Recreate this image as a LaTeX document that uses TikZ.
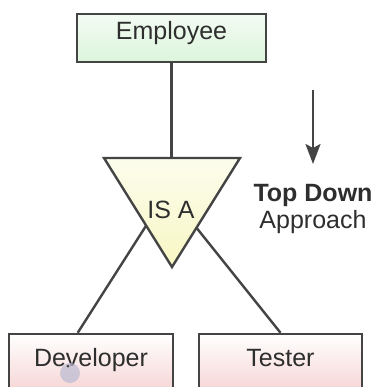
\documentclass[tikz,border=0pt]{standalone}
\usepackage{fontspec}
\setmainfont{Liberation Sans}
\usetikzlibrary{calc}
\usetikzlibrary{arrows.meta}
\definecolor{mline}{HTML}{444444}
\definecolor{mtext}{HTML}{2E2E2E}
\definecolor{mgreen}{HTML}{DCF4DC}
\definecolor{mpink}{HTML}{F6D3D3}
\definecolor{myellow}{HTML}{F7F7C4}
\tikzset{entity/.style = {draw = mline, line width = 2.4pt, text = mtext, text height = 18pt, text depth = 14pt, inner sep = 0, font = \fontsize{25}{30}\selectfont}}
\tikzset{plain/.style = {text = mtext, inner sep = 0, font = \fontsize{25}{30}\selectfont}}

\begin{document}
\begin{tikzpicture}[x = 1pt, y = -1pt]
      \clip (0, 0) rectangle (378, 387);
      \fill [white] (0, 0) rectangle (378, 387);
      % boxes
      \node (emp) [entity, top color = mgreen!35, bottom color = mgreen, minimum width = 189pt, minimum height = 48pt] at (171.5, 38) {Employee};
      \node (dev) [entity, top color = white, bottom color = mpink, minimum width = 164pt, minimum height = 60pt] at (91, 364) {Developer};
      \node (tester) [entity, top color = white, bottom color = mpink, minimum width = 163pt, minimum height = 60pt] at (280.5, 364) {Tester};
      % IS A triangle
      \coordinate (tl) at (104, 158);
      \coordinate (tr) at (240, 158);
      \coordinate (tb) at (172, 267);
      \coordinate (tt) at (emp.south |- tl);
      \shade [top color = myellow!30, bottom color = myellow] (tl) -- (tr) -- (tb) -- cycle;
      \draw [mline, line width = 2.4pt, line join = miter] (tl) -- (tr) -- (tb) -- cycle;
      \node (isa) [plain, anchor = base] at (171, 218) {IS A};
      \draw [mline, line width = 2.4pt] (emp.south) -- (tt);
      \draw [mline, line width = 2.4pt] ($(tl)!0.62!(tb)$) -- ($(dev.north west)!0.42!(dev.north east)$);
      \draw [mline, line width = 2.4pt] ($(tr)!0.64!(tb)$) -- (tester.north);
      % direction
      \coordinate (arrtop) at (313, 90);
      \coordinate (arrtip) at (313, 164);
      \draw [-{Stealth[length = 20pt, width = 15pt, inset = 4pt]}, mline, line width = 2.2pt] (arrtop) -- (arrtip);
      \node (topdown) [plain, anchor = base, font = \fontsize{25}{30}\selectfont\bfseries] at (313, 201) {Top Down};
      \node (approach) [plain, anchor = base] at (313, 228) {Approach};
      % pointer mark
      \fill [blue!20!gray!45, opacity = 0.7] (70, 373) circle (10pt);
      \fill [mline] (68, 366) circle (1.5pt);
    \end{tikzpicture}
\end{document}
